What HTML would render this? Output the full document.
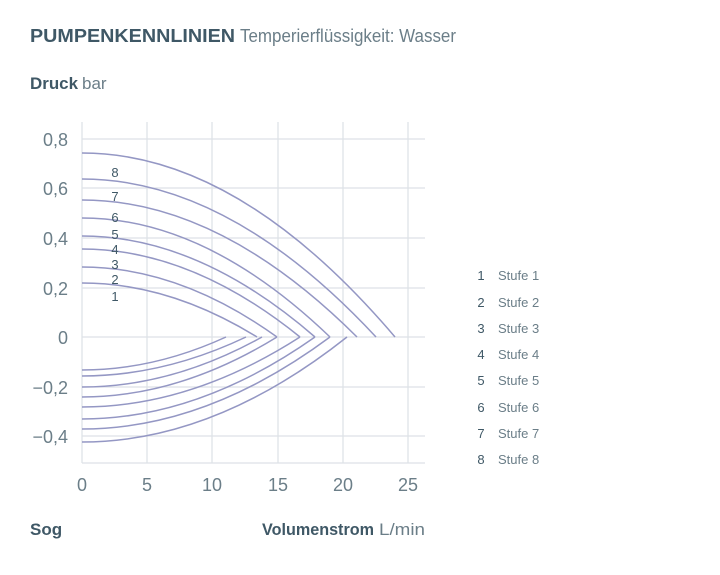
<!DOCTYPE html>
<html><head><style>
body{margin:0;background:#fff;}
svg text{font-family:"Liberation Sans",sans-serif;}
</style></head><body>
<svg width="720" height="570" viewBox="0 0 720 570" xmlns="http://www.w3.org/2000/svg">
<g fill="#3f5866">
<text x="30" y="42" font-size="18" font-weight="bold" textLength="205" lengthAdjust="spacingAndGlyphs">PUMPENKENNLINIEN</text>
<text x="240" y="42" font-size="18" fill="#6b7e88" textLength="216" lengthAdjust="spacingAndGlyphs">Temperierflüssigkeit: Wasser</text>
<text x="30" y="89" font-size="17" font-weight="bold" textLength="48" lengthAdjust="spacingAndGlyphs">Druck</text>
<text x="82" y="89" font-size="17" fill="#6b7e88">bar</text>
<text x="30" y="535" font-size="17" font-weight="bold">Sog</text>
<text x="262" y="535" font-size="17" font-weight="bold" textLength="112" lengthAdjust="spacingAndGlyphs">Volumenstrom</text>
<text x="379" y="535" font-size="17" fill="#6b7e88" textLength="46" lengthAdjust="spacingAndGlyphs">L/min</text>
</g>
<g stroke="#dde1e6" stroke-width="1.2">
<line x1="147" y1="122" x2="147" y2="463"/><line x1="212" y1="122" x2="212" y2="463"/>
<line x1="278" y1="122" x2="278" y2="463"/><line x1="343" y1="122" x2="343" y2="463"/>
<line x1="408" y1="122" x2="408" y2="463"/>
<line x1="82" y1="139" x2="425" y2="139"/><line x1="82" y1="188" x2="425" y2="188"/>
<line x1="82" y1="238" x2="425" y2="238"/><line x1="82" y1="288" x2="425" y2="288"/>
<line x1="82" y1="337" x2="425" y2="337"/><line x1="82" y1="387" x2="425" y2="387"/>
<line x1="82" y1="436" x2="425" y2="436"/>
<line x1="82" y1="463" x2="425" y2="463"/>
<line x1="82" y1="122" x2="82" y2="463"/>
</g>
<g fill="#6b7e88" font-size="18" text-anchor="end">
<text x="68" y="146">0,8</text><text x="68" y="195">0,6</text><text x="68" y="245">0,4</text>
<text x="68" y="295">0,2</text><text x="68" y="344">0</text><text x="68" y="394">−0,2</text>
<text x="68" y="443">−0,4</text>
</g>
<g fill="#6b7e88" font-size="18" text-anchor="middle">
<text x="82" y="491">0</text><text x="147" y="491">5</text><text x="212" y="491">10</text>
<text x="278" y="491">15</text><text x="343" y="491">20</text><text x="408" y="491">25</text>
</g>
<g fill="none" stroke="#9497c4" stroke-width="1.5">
<path d="M82 283 Q169.5 283 257 337"/>
<path d="M82 267 Q179.5 267 277 337"/>
<path d="M82 249 Q191 249 300 337"/>
<path d="M82 236 Q198.5 236 315 337"/>
<path d="M82 218 Q206 218 330 337"/>
<path d="M82 200 Q219.5 200 357 337"/>
<path d="M82 179 Q229 179 376 337"/>
<path d="M82 153 Q238.5 153 395 337"/>
<path d="M82 370 Q154 370 226 337"/>
<path d="M82 376 Q164 376 246 337"/>
<path d="M82 387 Q172 387 262 337"/>
<path d="M82 397 Q179.5 397 277 337"/>
<path d="M82 407 Q191 407 300 337"/>
<path d="M82 419 Q198.5 419 315 337"/>
<path d="M82 429 Q206 429 330 337"/>
<path d="M82 442 Q214.5 442 347 337"/>
</g>
<g fill="#3f5866" font-size="13" text-anchor="middle">
<text x="115" y="177">8</text><text x="115" y="201">7</text><text x="115" y="222">6</text>
<text x="115" y="239">5</text><text x="115" y="254">4</text><text x="115" y="269">3</text>
<text x="115" y="284">2</text><text x="115" y="301">1</text>
</g>
<g font-size="13">
<g fill="#3f5866" text-anchor="middle">
<text x="481" y="280">1</text><text x="481" y="307">2</text><text x="481" y="333">3</text>
<text x="481" y="359">4</text><text x="481" y="385">5</text><text x="481" y="412">6</text>
<text x="481" y="438">7</text><text x="481" y="464">8</text>
</g>
<g fill="#6b7e88">
<text x="498" y="280">Stufe 1</text><text x="498" y="307">Stufe 2</text><text x="498" y="333">Stufe 3</text>
<text x="498" y="359">Stufe 4</text><text x="498" y="385">Stufe 5</text><text x="498" y="412">Stufe 6</text>
<text x="498" y="438">Stufe 7</text><text x="498" y="464">Stufe 8</text>
</g>
</g>
</svg>
</body></html>
